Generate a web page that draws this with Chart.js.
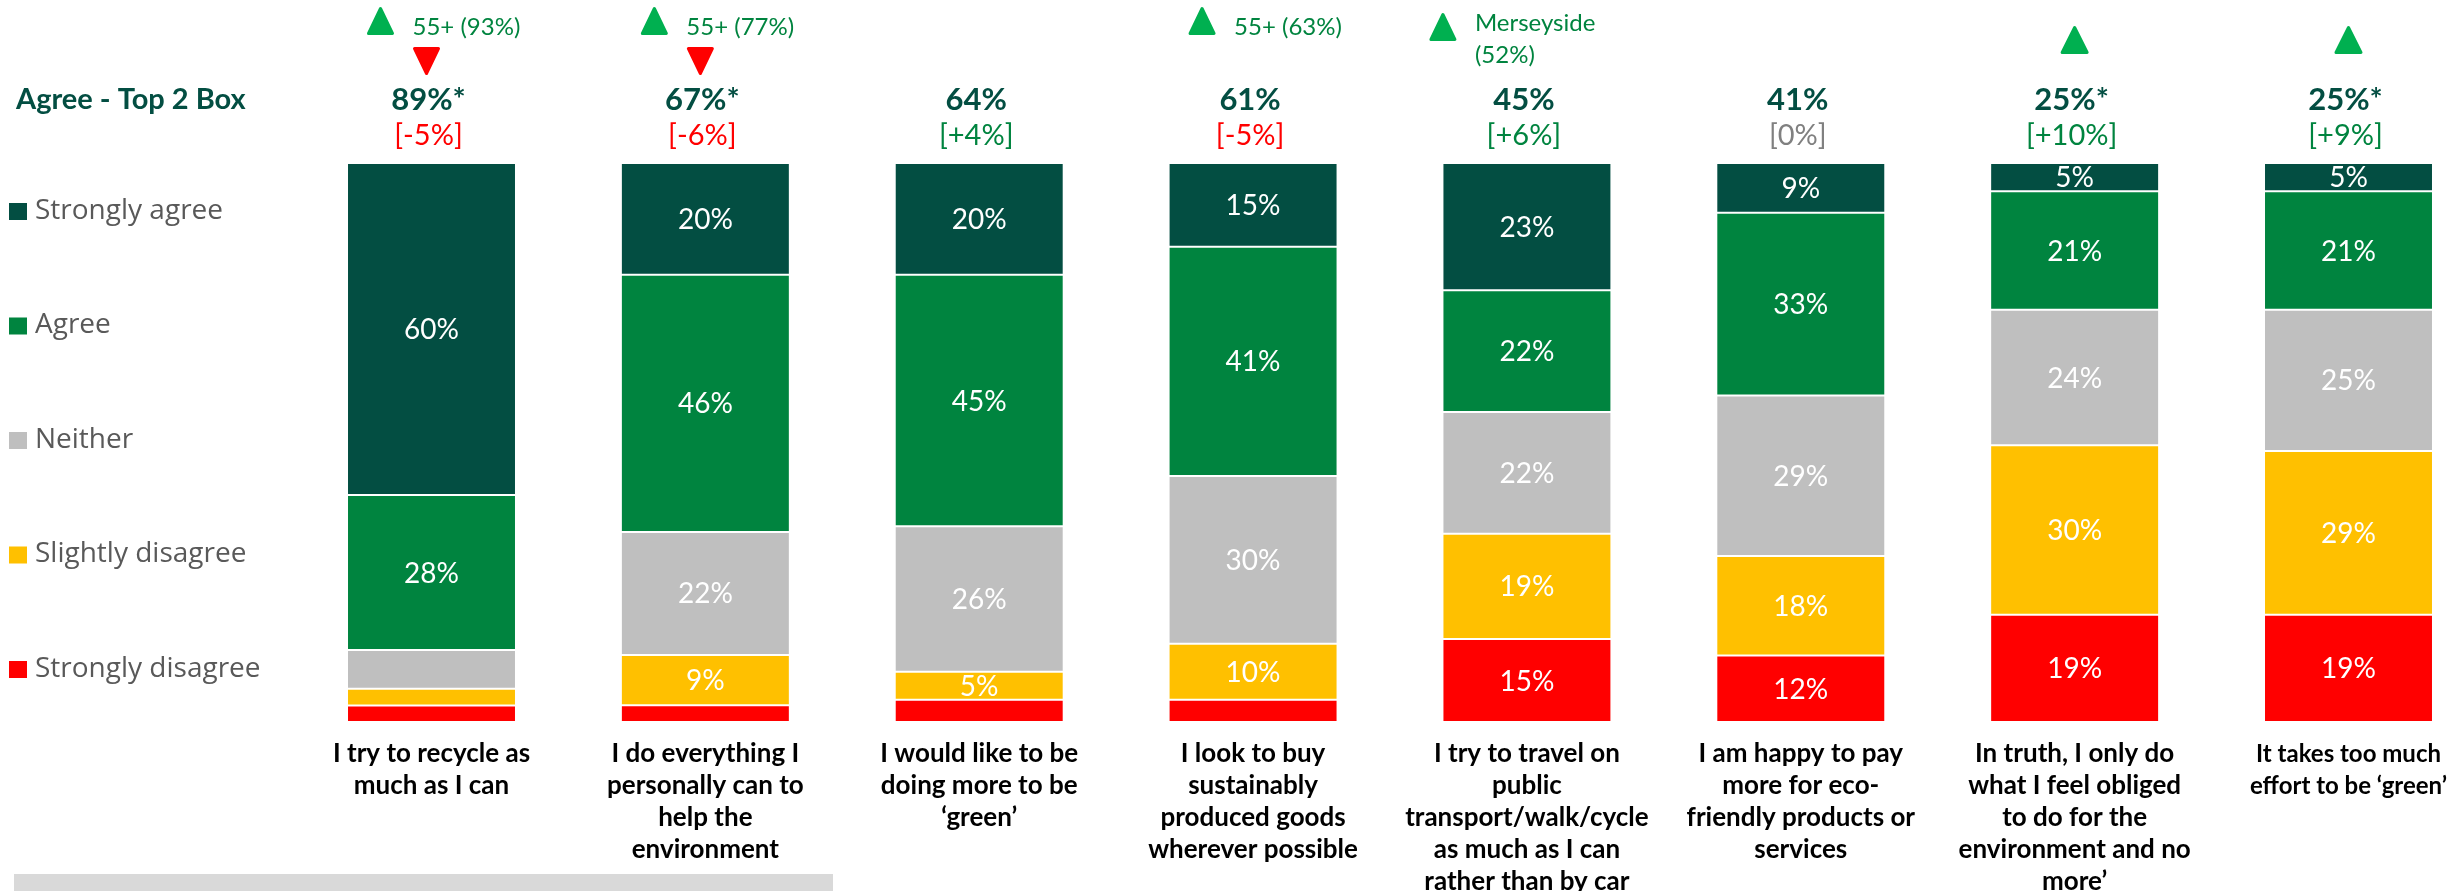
<!DOCTYPE html>
<html>
<head>
<meta charset="utf-8">
<title>Attitudes to being green</title>
<script src="https://cdn.jsdelivr.net/npm/chart.js@4.4.1/dist/chart.umd.min.js"></script>
<style>
  html, body { margin: 0; padding: 0; background: #ffffff; }
  #wrap { position: relative; width: 2453px; height: 891px; }
</style>
</head>
<body>
<div id="wrap"><canvas id="greenChart" width="2453" height="891"></canvas></div>
<script>
// statements (multi-line axis labels)
const statements = [
  ["I try to recycle as", "much as I can"],
  ["I do everything I", "personally can to", "help the", "environment"],
  ["I would like to be", "doing more to be", "\u2018green\u2019"],
  ["I look to buy", "sustainably", "produced goods", "wherever possible"],
  ["I try to travel on", "public", "transport/walk/cycle", "as much as I can", "rather than by car"],
  ["I am happy to pay", "more for eco-", "friendly products or", "services"],
  ["In truth, I only do", "what I feel obliged", "to do for the", "environment and no", "more\u2019"],
  ["It takes too much", "effort to be \u2018green\u2019"]
];

// answer shares, %
const stronglyAgree    = [60, 20, 20, 15, 23,  9,  5,  5];
const agree            = [28, 46, 45, 41, 22, 33, 21, 21];
const neither          = [ 7, 22, 26, 30, 22, 29, 24, 25];
const slightlyDisagree = [ 3,  9,  5, 10, 19, 18, 30, 29];
const stronglyDisagree = [ 3,  3,  4,  4, 15, 12, 19, 19];

// segments printed without a value
const quietNeither = [0];
const quietSlightly = [0];
const quietStrongly = [0, 1, 2, 3];

// header rows
const top2Box = ["89%*", "67%*", "64%", "61%", "45%", "41%", "25%*", "25%*"];
const changeVsWave = ["[-5%]", "[-6%]", "[+4%]", "[-5%]", "[+6%]", "[0%]", "[+10%]", "[+9%]"];
// up arrows (null = none, "" = arrow only) and down arrows
const higherNotes = ["55+ (93%)", "55+ (77%)", null, "55+ (63%)", "Merseyside\n(52%)", null, "", ""];
const lowerMarks = [true, true, false, false, false, false, false, false];

const C = {
  sa: "#034E42",
  a: "#00843F",
  n: "#BFBFBF",
  sd: "#FFC000",
  d: "#FF0000",
  head: "#034E42",
  noteGreen: "#00843F",
  arrowGreen: "#00B050",
  legendText: "#595959"
};

const series = [
  { label: "Strongly disagree", values: stronglyDisagree, color: C.d, quiet: quietStrongly },
  { label: "Slightly disagree", values: slightlyDisagree, color: C.sd, quiet: quietSlightly },
  { label: "Neither", values: neither, color: C.n, quiet: quietNeither },
  { label: "Agree", values: agree, color: C.a, quiet: [] },
  { label: "Strongly agree", values: stronglyAgree, color: C.sa, quiet: [] }
];

// each bar is scaled to 100%
const totals = statements.map((_, i) => series.reduce((s, d) => s + d.values[i], 0));

const datasets = series.map(d => ({
  label: d.label,
  data: d.values.map((v, i) => v / totals[i] * 100),
  raw: d.values,
  quiet: d.quiet,
  backgroundColor: d.color,
  borderColor: "rgba(255,255,255,0.45)",
  borderWidth: 1,
  borderSkipped: false,
  categoryPercentage: 0.617,
  barPercentage: 1,
  clip: false
}));

function triangle(ctx, cx, top, w, h, up, color) {
  ctx.save();
  ctx.fillStyle = color;
  ctx.strokeStyle = color;
  ctx.lineJoin = "round";
  ctx.lineWidth = 3;
  ctx.beginPath();
  if (up) {
    ctx.moveTo(cx, top + 1.5);
    ctx.lineTo(cx + w / 2 - 1.5, top + h - 1.5);
    ctx.lineTo(cx - w / 2 + 1.5, top + h - 1.5);
  } else {
    ctx.moveTo(cx - w / 2 + 1.5, top + 1.5);
    ctx.lineTo(cx + w / 2 - 1.5, top + 1.5);
    ctx.lineTo(cx, top + h - 1.5);
  }
  ctx.closePath();
  ctx.fill();
  ctx.stroke();
  ctx.restore();
}

const valueLabels = {
  id: "valueLabels",
  afterDatasetsDraw(chart) {
    const ctx = chart.ctx;
    ctx.save();
    ctx.font = "28px Lato";
    ctx.fillStyle = "#ffffff";
    ctx.textAlign = "center";
    ctx.textBaseline = "middle";
    chart.data.datasets.forEach((ds, di) => {
      chart.getDatasetMeta(di).data.forEach((bar, i) => {
        if (ds.quiet.includes(i)) return;
        const p = bar.getProps(["x", "y", "base"], true);
        ctx.fillText(ds.raw[i] + "%", p.x, (p.y + p.base) / 2 + 1);
      });
    });
    ctx.restore();
  }
};

const sideAndHeader = {
  id: "sideAndHeader",
  afterDraw(chart) {
    const ctx = chart.ctx;
    const xs = chart.scales.x;
    ctx.save();

    // legend, top entry first
    const order = chart.data.datasets.slice().reverse();
    order.forEach((ds, k) => {
      const y = 211 + k * 114.5;
      ctx.fillStyle = ds.backgroundColor;
      ctx.fillRect(9, y - 8, 18, 17);
      ctx.fillStyle = C.legendText;
      ctx.font = "28px 'Open Sans'";
      ctx.textAlign = "left";
      ctx.textBaseline = "middle";
      ctx.fillText(ds.label, 35, y);
    });

    // row title
    ctx.fillStyle = C.head;
    ctx.font = "bold 29px Lato";
    ctx.textAlign = "left";
    ctx.textBaseline = "middle";
    ctx.fillText("Agree - Top 2 Box", 16, 100);

    statements.forEach((_, i) => {
      const cx = xs.getPixelForValue(i);

      ctx.textAlign = "center";
      ctx.textBaseline = "middle";
      ctx.fillStyle = C.head;
      ctx.font = "bold 31px Lato";
      ctx.fillText(top2Box[i], cx - 3, 100);

      const ch = changeVsWave[i];
      ctx.fillStyle = ch.startsWith("[-") ? "#FF0000" : ch.startsWith("[+") ? C.noteGreen : "#808080";
      ctx.font = "29px Lato";
      ctx.fillText(ch, cx - 3, 136);

      const note = higherNotes[i];
      if (note !== null) {
        if (note === "") {
          triangle(ctx, cx, 26, 28, 28, true, C.arrowGreen);
        } else {
          const lines = note.split("\n");
          const left = lines.length > 1 ? cx - 97 : cx - 64;
          const top = lines.length > 1 ? 13 : 7;
          triangle(ctx, left + 13, top, 27, 28, true, C.arrowGreen);
          ctx.fillStyle = C.noteGreen;
          ctx.font = "24px Lato";
          ctx.textAlign = "left";
          lines.forEach((ln, k) => {
            ctx.fillText(ln, left + 45, (lines.length > 1 ? 23 : 27) + k * 32);
          });
        }
      }
      if (lowerMarks[i]) {
        triangle(ctx, cx - 5, 47, 27, 28, false, "#FF0000");
      }
    });

    // base note strip
    ctx.fillStyle = "#D9D9D9";
    ctx.fillRect(14, 874, 819, 17);
    ctx.restore();
  }
};

new Chart(document.getElementById("greenChart"), {
  type: "bar",
  data: { labels: statements, datasets: datasets },
  options: {
    responsive: false,
    animation: false,
    events: [],
    layout: { padding: { left: 431.5, right: 104.5, top: 163, bottom: 0 } },
    plugins: {
      legend: { display: false },
      tooltip: { enabled: false }
    },
    scales: {
      x: {
        stacked: true,
        offset: false,
        grid: { display: false, drawTicks: false },
        border: { display: false },
        ticks: {
          color: "#000000",
          // the right-most label sits against the page edge, so it is set a bit smaller
          font: (c) => ({
            family: "Lato",
            weight: "bold",
            size: c.index === statements.length - 1 ? 24 : 26,
            lineHeight: c.index === statements.length - 1 ? 32 / 24 : 32 / 26
          }),
          maxRotation: 0,
          minRotation: 0,
          autoSkip: false,
          padding: 16
        },
        afterFit(scale) {
          scale.height = 169;
          scale.paddingLeft = 0;
          scale.paddingRight = 0;
        }
      },
      y: {
        display: false,
        stacked: true,
        min: 0,
        max: 100
      }
    }
  },
  plugins: [valueLabels, sideAndHeader]
});
</script>
</body>
</html>
